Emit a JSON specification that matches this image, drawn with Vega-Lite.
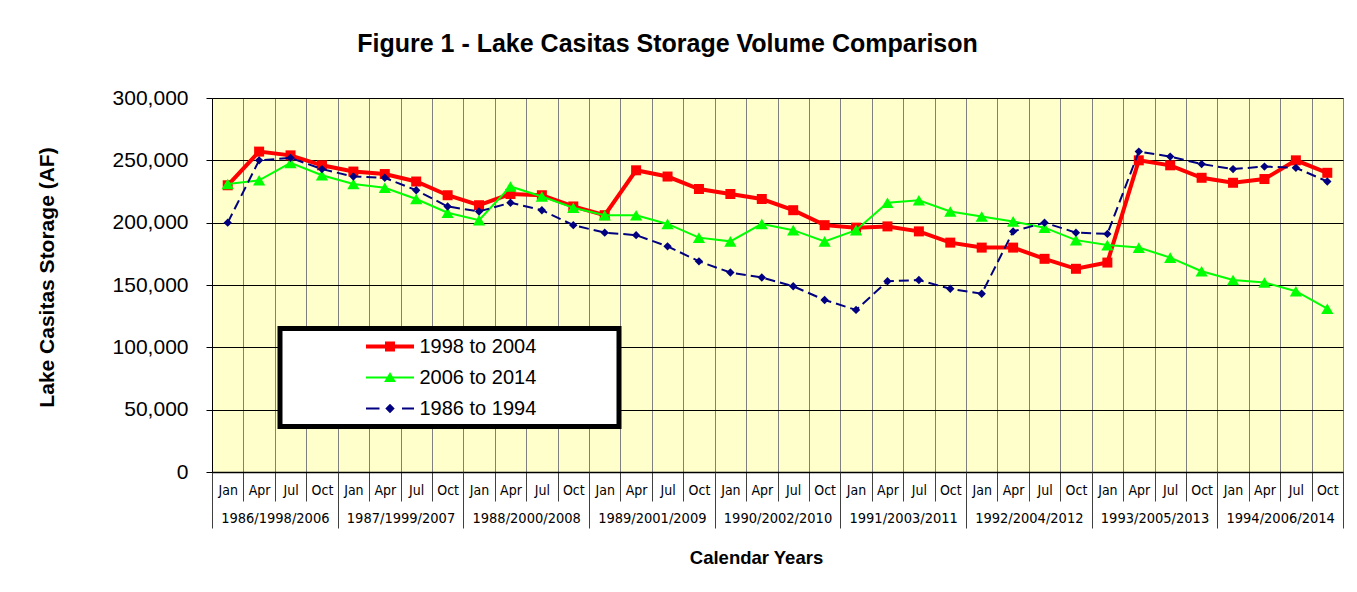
{
  "$schema": "https://vega.github.io/schema/vega-lite/v6.json",
  "width": 1131,
  "height": 374,
  "autosize": {"type": "none"},
  "padding": {"left": 212, "top": 98, "right": 14, "bottom": 120},
  "background": "white",
  "title": {
    "text": "Figure 1 - Lake Casitas Storage Volume Comparison",
    "font": "Liberation Sans",
    "fontSize": 25,
    "fontWeight": "bold",
    "color": "#000000",
    "anchor": "middle",
    "dx": -110,
    "offset": 30
  },
  "config": {
    "view": {"fill": "#FFFFCC", "stroke": "#808080", "strokeWidth": 1},
    "legend": {"strokeWidth": 5}
  },
  "data": {
    "values": [
      {"s": "1998 to 2004", "i": 0, "v": 230000}, {"s": "1998 to 2004", "i": 1, "v": 257000}, {"s": "1998 to 2004", "i": 2, "v": 254000}, {"s": "1998 to 2004", "i": 3, "v": 246000},
      {"s": "1998 to 2004", "i": 4, "v": 241000}, {"s": "1998 to 2004", "i": 5, "v": 239000}, {"s": "1998 to 2004", "i": 6, "v": 233000}, {"s": "1998 to 2004", "i": 7, "v": 222000},
      {"s": "1998 to 2004", "i": 8, "v": 214000}, {"s": "1998 to 2004", "i": 9, "v": 223000}, {"s": "1998 to 2004", "i": 10, "v": 222000}, {"s": "1998 to 2004", "i": 11, "v": 213000},
      {"s": "1998 to 2004", "i": 12, "v": 206000}, {"s": "1998 to 2004", "i": 13, "v": 242000}, {"s": "1998 to 2004", "i": 14, "v": 237000}, {"s": "1998 to 2004", "i": 15, "v": 227000},
      {"s": "1998 to 2004", "i": 16, "v": 223000}, {"s": "1998 to 2004", "i": 17, "v": 219000}, {"s": "1998 to 2004", "i": 18, "v": 210000}, {"s": "1998 to 2004", "i": 19, "v": 198000},
      {"s": "1998 to 2004", "i": 20, "v": 196000}, {"s": "1998 to 2004", "i": 21, "v": 197000}, {"s": "1998 to 2004", "i": 22, "v": 193000}, {"s": "1998 to 2004", "i": 23, "v": 184000},
      {"s": "1998 to 2004", "i": 24, "v": 180000}, {"s": "1998 to 2004", "i": 25, "v": 180000}, {"s": "1998 to 2004", "i": 26, "v": 171000}, {"s": "1998 to 2004", "i": 27, "v": 163000},
      {"s": "1998 to 2004", "i": 28, "v": 168000}, {"s": "1998 to 2004", "i": 29, "v": 250000}, {"s": "1998 to 2004", "i": 30, "v": 246000}, {"s": "1998 to 2004", "i": 31, "v": 236000},
      {"s": "1998 to 2004", "i": 32, "v": 232000}, {"s": "1998 to 2004", "i": 33, "v": 235000}, {"s": "1998 to 2004", "i": 34, "v": 250000}, {"s": "1998 to 2004", "i": 35, "v": 240000},
      {"s": "2006 to 2014", "i": 0, "v": 231000}, {"s": "2006 to 2014", "i": 1, "v": 234000}, {"s": "2006 to 2014", "i": 2, "v": 248000}, {"s": "2006 to 2014", "i": 3, "v": 238000},
      {"s": "2006 to 2014", "i": 4, "v": 231000}, {"s": "2006 to 2014", "i": 5, "v": 228000}, {"s": "2006 to 2014", "i": 6, "v": 219000}, {"s": "2006 to 2014", "i": 7, "v": 208000},
      {"s": "2006 to 2014", "i": 8, "v": 202000}, {"s": "2006 to 2014", "i": 9, "v": 229000}, {"s": "2006 to 2014", "i": 10, "v": 221000}, {"s": "2006 to 2014", "i": 11, "v": 212000},
      {"s": "2006 to 2014", "i": 12, "v": 206000}, {"s": "2006 to 2014", "i": 13, "v": 206000}, {"s": "2006 to 2014", "i": 14, "v": 199000}, {"s": "2006 to 2014", "i": 15, "v": 188000},
      {"s": "2006 to 2014", "i": 16, "v": 185000}, {"s": "2006 to 2014", "i": 17, "v": 199000}, {"s": "2006 to 2014", "i": 18, "v": 194000}, {"s": "2006 to 2014", "i": 19, "v": 185000},
      {"s": "2006 to 2014", "i": 20, "v": 194000}, {"s": "2006 to 2014", "i": 21, "v": 216000}, {"s": "2006 to 2014", "i": 22, "v": 218000}, {"s": "2006 to 2014", "i": 23, "v": 209000},
      {"s": "2006 to 2014", "i": 24, "v": 205000}, {"s": "2006 to 2014", "i": 25, "v": 201000}, {"s": "2006 to 2014", "i": 26, "v": 196000}, {"s": "2006 to 2014", "i": 27, "v": 186000},
      {"s": "2006 to 2014", "i": 28, "v": 182000}, {"s": "2006 to 2014", "i": 29, "v": 180000}, {"s": "2006 to 2014", "i": 30, "v": 172000}, {"s": "2006 to 2014", "i": 31, "v": 161000},
      {"s": "2006 to 2014", "i": 32, "v": 154000}, {"s": "2006 to 2014", "i": 33, "v": 152000}, {"s": "2006 to 2014", "i": 34, "v": 145000}, {"s": "2006 to 2014", "i": 35, "v": 131000},
      {"s": "1986 to 1994", "i": 0, "v": 200000}, {"s": "1986 to 1994", "i": 1, "v": 250000}, {"s": "1986 to 1994", "i": 2, "v": 252000}, {"s": "1986 to 1994", "i": 3, "v": 243000},
      {"s": "1986 to 1994", "i": 4, "v": 237000}, {"s": "1986 to 1994", "i": 5, "v": 236000}, {"s": "1986 to 1994", "i": 6, "v": 226000}, {"s": "1986 to 1994", "i": 7, "v": 213000},
      {"s": "1986 to 1994", "i": 8, "v": 209000}, {"s": "1986 to 1994", "i": 9, "v": 216000}, {"s": "1986 to 1994", "i": 10, "v": 210000}, {"s": "1986 to 1994", "i": 11, "v": 198000},
      {"s": "1986 to 1994", "i": 12, "v": 192000}, {"s": "1986 to 1994", "i": 13, "v": 190000}, {"s": "1986 to 1994", "i": 14, "v": 181000}, {"s": "1986 to 1994", "i": 15, "v": 169000},
      {"s": "1986 to 1994", "i": 16, "v": 160000}, {"s": "1986 to 1994", "i": 17, "v": 156000}, {"s": "1986 to 1994", "i": 18, "v": 149000}, {"s": "1986 to 1994", "i": 19, "v": 138000},
      {"s": "1986 to 1994", "i": 20, "v": 130000}, {"s": "1986 to 1994", "i": 21, "v": 153000}, {"s": "1986 to 1994", "i": 22, "v": 154000}, {"s": "1986 to 1994", "i": 23, "v": 147000},
      {"s": "1986 to 1994", "i": 24, "v": 143000}, {"s": "1986 to 1994", "i": 25, "v": 193000}, {"s": "1986 to 1994", "i": 26, "v": 200000}, {"s": "1986 to 1994", "i": 27, "v": 192000},
      {"s": "1986 to 1994", "i": 28, "v": 191000}, {"s": "1986 to 1994", "i": 29, "v": 257000}, {"s": "1986 to 1994", "i": 30, "v": 253000}, {"s": "1986 to 1994", "i": 31, "v": 247000},
      {"s": "1986 to 1994", "i": 32, "v": 243000}, {"s": "1986 to 1994", "i": 33, "v": 245000}, {"s": "1986 to 1994", "i": 34, "v": 244000}, {"s": "1986 to 1994", "i": 35, "v": 233000}
    ]
  },
  "encoding": {
    "y": {
      "field": "v",
      "type": "quantitative",
      "scale": {"domain": [0, 300000], "nice": false, "zero": true},
      "axis": {
        "values": [0, 50000, 100000, 150000, 200000, 250000, 300000],
        "format": ",d",
        "grid": true,
        "gridColor": "#000000",
        "gridOpacity": 1,
        "gridWidth": 1,
        "tickSize": 6,
        "tickColor": "#000000",
        "domainColor": "#000000",
        "labelFont": "Liberation Sans",
        "labelFontSize": 21,
        "labelColor": "#000000",
        "labelPadding": 18,
        "title": "Lake Casitas Storage (AF)",
        "titleFont": "Liberation Sans",
        "titleFontWeight": "bold",
        "titleFontSize": 21,
        "titleColor": "#000000",
        "titleX": -165,
        "titleY": 179,
        "titleBaseline": "middle",
        "titleAngle": 270
      }
    },
    "color": {
      "field": "s",
      "type": "nominal",
      "scale": {"domain": ["1998 to 2004", "2006 to 2014", "1986 to 1994"], "range": ["#FF0000", "#00FF00", "#000080"]},
      "legend": {
        "title": null,
        "orient": "none",
        "legendX": 68,
        "legendY": 230.5,
        "strokeColor": "#000000",
        "fillColor": "#FFFFFF",
        "padding": 8,
        "rowPadding": 11,
        "symbolOffset": 92,
        "labelOffset": 19.5,
        "symbolSize": 400,
        "labelFont": "Liberation Sans",
        "labelFontSize": 20,
        "labelColor": "#000000",
        "labelLimit": 500,
        "encode": {
          "symbols": {
            "update": {
              "shape": {"signal": "(datum.value === '1998 to 2004' ? 'M-2.4,-0.2H2.4V0.2H-2.4Z M-0.5,-0.5H0.5V0.5H-0.5Z' : datum.value === '2006 to 2014' ? 'M-2.4,-0.1H2.4V0.1H-2.4Z M0,-0.55L0.6,0.45H-0.6Z' : 'M-2.4,-0.1H-1.05V0.1H-2.4Z M1.2,-0.1H2.4V0.1H1.2Z M0,-0.47L0.47,0L0,0.47L-0.47,0Z') + ' M22.1,0L22.1,0Z'"},
              "fill": {"scale": "color", "field": "value"},
              "fillOpacity": {"value": 1},
              "opacity": {"value": 1},
              "stroke": {"value": "transparent"},
              "strokeWidth": {"value": 0},
              "size": {"value": 400}
            }
          }
        }
      }
    }
  },
  "resolve": {"axis": {"x": "independent"}},
  "layer": [
    {
      "transform": [{"filter": "datum.s === '1998 to 2004'"}],
      "mark": {"type": "line", "strokeWidth": 4},
      "encoding": {
        "x": {
          "field": "i",
          "type": "quantitative",
          "scale": {"domain": [-0.5, 35.5], "nice": false, "zero": false},
          "axis": {
            "orient": "bottom",
            "values": [-0.5, 0.5, 1.5, 2.5, 3.5, 4.5, 5.5, 6.5, 7.5, 8.5, 9.5, 10.5, 11.5, 12.5, 13.5, 14.5, 15.5, 16.5, 17.5, 18.5, 19.5, 20.5, 21.5, 22.5, 23.5, 24.5, 25.5, 26.5, 27.5, 28.5, 29.5, 30.5, 31.5, 32.5, 33.5, 34.5, 35.5],
            "grid": true,
            "gridColor": "#808080",
            "gridOpacity": 1,
            "gridWidth": 1,
            "ticks": true,
            "tickSize": 29,
            "tickColor": "#404040",
            "domain": true,
            "domainColor": "#000000",
            "domainWidth": 1.5,
            "labelExpr": "datum.value > 35 ? '' : ['Jan','Apr','Jul','Oct'][round(datum.value + 0.5) % 4]",
            "labelOffset": 15.71,
            "labelPadding": -17.5,
            "labelAngle": 0,
            "labelAlign": "center",
            "labelBaseline": "top",
            "labelFont": "Liberation Sans Narrow, Arial Narrow, DejaVu Sans Condensed, sans-serif",
            "labelFontSize": 14,
            "labelColor": "#000000",
            "labelOverlap": false,
            "labelBound": false,
            "labelFlush": false,
            "title": null
          }
        }
      }
    },
    {
      "transform": [{"filter": "datum.s === '1998 to 2004'"}],
      "mark": {"type": "point", "shape": "square", "filled": true, "size": 100, "opacity": 1},
      "encoding": {
        "x": {
          "field": "i",
          "type": "quantitative",
          "axis": {
            "orient": "bottom",
            "values": [-0.5, 3.5, 7.5, 11.5, 15.5, 19.5, 23.5, 27.5, 31.5, 35.5],
            "grid": false,
            "ticks": true,
            "tickSize": 56,
            "tickColor": "#404040",
            "domain": false,
            "labelExpr": "datum.value > 35 ? '' : ['1986/1998/2006','1987/1999/2007','1988/2000/2008','1989/2001/2009','1990/2002/2010','1991/2003/2011','1992/2004/2012','1993/2005/2013','1994/2006/2014'][round((datum.value + 0.5) / 4)]",
            "labelOffset": 62.83,
            "labelPadding": -17,
            "labelAngle": 0,
            "labelAlign": "center",
            "labelBaseline": "top",
            "labelFont": "Liberation Sans Narrow, Arial Narrow, DejaVu Sans Condensed, sans-serif",
            "labelFontSize": 14.5,
            "labelColor": "#000000",
            "labelOverlap": false,
            "labelBound": false,
            "labelFlush": false,
            "title": "Calendar Years",
            "titleFont": "Liberation Sans",
            "titleFontWeight": "bold",
            "titleFontSize": 18.5,
            "titleColor": "#000000",
            "titleX": 544,
            "titleY": 85,
            "titleBaseline": "middle"
          }
        }
      }
    },
    {
      "transform": [{"filter": "datum.s === '2006 to 2014'"}],
      "mark": {"type": "line", "strokeWidth": 2},
      "encoding": {"x": {"field": "i", "type": "quantitative", "axis": null}}
    },
    {
      "transform": [{"filter": "datum.s === '2006 to 2014'"}],
      "mark": {"type": "point", "shape": "triangle-up", "filled": true, "size": 150, "opacity": 1},
      "encoding": {"x": {"field": "i", "type": "quantitative", "axis": null}}
    },
    {
      "transform": [{"filter": "datum.s === '1986 to 1994'"}],
      "mark": {"type": "line", "strokeWidth": 2, "strokeDash": [10, 5]},
      "encoding": {"x": {"field": "i", "type": "quantitative", "axis": null}}
    },
    {
      "transform": [{"filter": "datum.s === '1986 to 1994'"}],
      "mark": {"type": "point", "shape": "diamond", "filled": true, "size": 70, "opacity": 1},
      "encoding": {"x": {"field": "i", "type": "quantitative", "axis": null}}
    }
  ]
}
